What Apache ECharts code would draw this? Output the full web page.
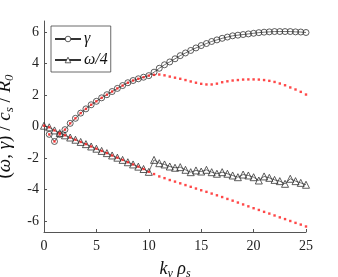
<!DOCTYPE html>
<html>
<head>
<meta charset="utf-8">
<script src="https://cdn.jsdelivr.net/npm/echarts@6/dist/echarts.min.js"></script>
<style>html,body{margin:0;padding:0;background:#fff}#c{width:338px;height:277px}</style>
</head>
<body>
<div id="c"></div>
<script>
// k_y rho_s grid (0 .. 25 step 0.5)
var kValues = [0,0.5,1,1.5,2,2.5,3,3.5,4,4.5,5,5.5,6,6.5,7,7.5,8,8.5,9,9.5,10,10.5,11,11.5,12,12.5,13,13.5,14,14.5,15,15.5,16,16.5,17,17.5,18,18.5,19,19.5,20,20.5,21,21.5,22,22.5,23,23.5,24,24.5,25];

// gamma (circles)
var gammaSim = [null,-0.5,-0.95,-0.5,-0.2,0.2,0.52,0.85,1.12,1.38,1.6,1.82,2.02,2.22,2.42,2.6,2.78,2.92,3.03,3.13,3.23,3.45,3.7,3.92,4.1,4.3,4.5,4.67,4.83,4.99,5.14,5.27,5.4,5.5,5.6,5.68,5.76,5.8,5.84,5.88,5.92,5.96,5.99,6.01,6.03,6.03,6.03,6.03,6.01,6.0,5.97];

// omega/4 (triangles)
var omegaSim = [0.05,-0.05,-0.25,-0.42,-0.56,-0.7,-0.84,-0.98,-1.12,-1.27,-1.41,-1.55,-1.69,-1.84,-1.98,-2.12,-2.27,-2.41,-2.55,-2.7,-2.88,-2.12,-2.33,-2.41,-2.54,-2.62,-2.58,-2.75,-2.9,-2.79,-2.86,-2.75,-2.9,-3.0,-2.9,-3.0,-3.11,-3.22,-3.05,-3.11,-3.22,-3.43,-3.17,-3.26,-3.39,-3.47,-3.64,-3.32,-3.47,-3.58,-3.7];

// red dotted curves
var gammaFit = [null,-0.5,-0.95,-0.5,-0.2,0.2,0.52,0.85,1.12,1.38,1.6,1.82,2.02,2.22,2.42,2.6,2.78,2.92,3.03,3.13,3.23,3.28,3.3,3.25,3.17,3.1,3.03,2.95,2.86,2.78,2.71,2.67,2.67,2.72,2.81,2.87,2.92,2.95,2.98,2.99,2.99,2.98,2.95,2.9,2.83,2.73,2.62,2.48,2.35,2.2,2.03];
var omegaFit = [0.05,-0.05,-0.25,-0.42,-0.56,-0.7,-0.84,-0.98,-1.12,-1.27,-1.41,-1.55,-1.69,-1.84,-1.98,-2.12,-2.27,-2.41,-2.55,-2.7,-2.88,-3.02,-3.17,-3.28,-3.4,-3.5,-3.61,-3.72,-3.83,-3.94,-4.05,-4.15,-4.26,-4.37,-4.48,-4.6,-4.71,-4.83,-4.95,-5.07,-5.19,-5.3,-5.42,-5.53,-5.65,-5.77,-5.88,-6.0,-6.12,-6.23,-6.35];

var yTicks = [-6,-4,-2,0,2,4,6];
var xTicks = [0,5,10,15,20,25];

function pairs(ys){ return kValues.map(function(k,i){ return [k, ys[i]]; }); }

var SERIF = '"Liberation Serif", serif';
var chart = echarts.init(document.getElementById('c'), null, {renderer:'canvas'});
var markerColor = '#333';
function richName(fs, sfs, drop){
  return {
    i:{fontFamily:SERIF, fontStyle:'italic', fontSize:fs, color:'#111', lineHeight:22},
    n:{fontFamily:SERIF, fontSize:fs, color:'#111', lineHeight:22},
    sub:{fontFamily:SERIF, fontStyle:'italic', fontSize:sfs, color:'#111', lineHeight:22, padding:[drop,0,0,0]}
  };
}
chart.setOption({
  animation:false,
  backgroundColor:'#fff',
  grid:{left:44,right:32,top:21,bottom:45,containLabel:false,outerBoundsMode:'none'},
  legend:{
    left:51, top:26, orient:'vertical',
    data:['γ','ω/4'],
    backgroundColor:'#fff', borderColor:'#444', borderWidth:0.8, borderRadius:0,
    padding:[5,3,4,3], itemGap:5, itemWidth:26, itemHeight:7,
    itemStyle:{color:'#fff', borderColor:markerColor, borderWidth:0.8},
    textStyle:{fontFamily:SERIF, fontStyle:'italic', fontSize:16, color:'#111', padding:[0,0,0,-2]}
  },
  xAxis:{
    type:'value', min:0, max:25, interval:5,
    axisLine:{onZero:false, lineStyle:{color:'#555', width:1}},
    axisTick:{inside:true, length:3, lineStyle:{color:'#555'}},
    axisLabel:{fontFamily:SERIF, fontSize:14, color:'#222', margin:7},
    splitLine:{show:false},
    name:'{i|k}{sub|y}{n| }{i|ρ}{sub|s}', nameLocation:'middle', nameGap:22,
    nameTextStyle:{rich:richName(18,12,10)}
  },
  yAxis:{
    type:'value', min:-6.7, max:6.7,
    axisLine:{onZero:false, lineStyle:{color:'#555', width:1}},
    axisTick:{inside:true, length:3, lineStyle:{color:'#555'}, customValues:yTicks},
    axisLabel:{fontFamily:SERIF, fontSize:14, color:'#222', margin:5, customValues:yTicks},
    splitLine:{show:false},
    name:'{n|(}{i|ω}{n|, }{i|γ}{n|) / }{i|c}{sub|s}{n| / }{i|R}{sub|0}', nameLocation:'middle', nameGap:24, nameRotate:90,
    nameTextStyle:{rich:richName(19,13,10)}
  },
  series:[
    {name:'γ', type:'line', data:pairs(gammaSim), symbol:'circle', symbolSize:6, showAllSymbol:true,
      lineStyle:{color:markerColor, width:0.7},
      itemStyle:{color:'rgba(255,255,255,0)', borderColor:markerColor, borderWidth:0.8}, z:2},
    {name:'ω/4', type:'line', data:pairs(omegaSim), symbol:'triangle', symbolSize:7, showAllSymbol:true,
      lineStyle:{color:markerColor, width:0.7},
      itemStyle:{color:'rgba(255,255,255,0)', borderColor:markerColor, borderWidth:0.8}, z:2},
    {name:'gfit', type:'scatter', data:pairs(gammaFit), symbol:'rect', symbolSize:2.4,
      itemStyle:{color:'#ff1a1a'}, z:5},
    {name:'ofit', type:'scatter', data:pairs(omegaFit), symbol:'rect', symbolSize:2.4,
      itemStyle:{color:'#ff1a1a'}, z:5}
  ]
});
</script>
</body>
</html>
